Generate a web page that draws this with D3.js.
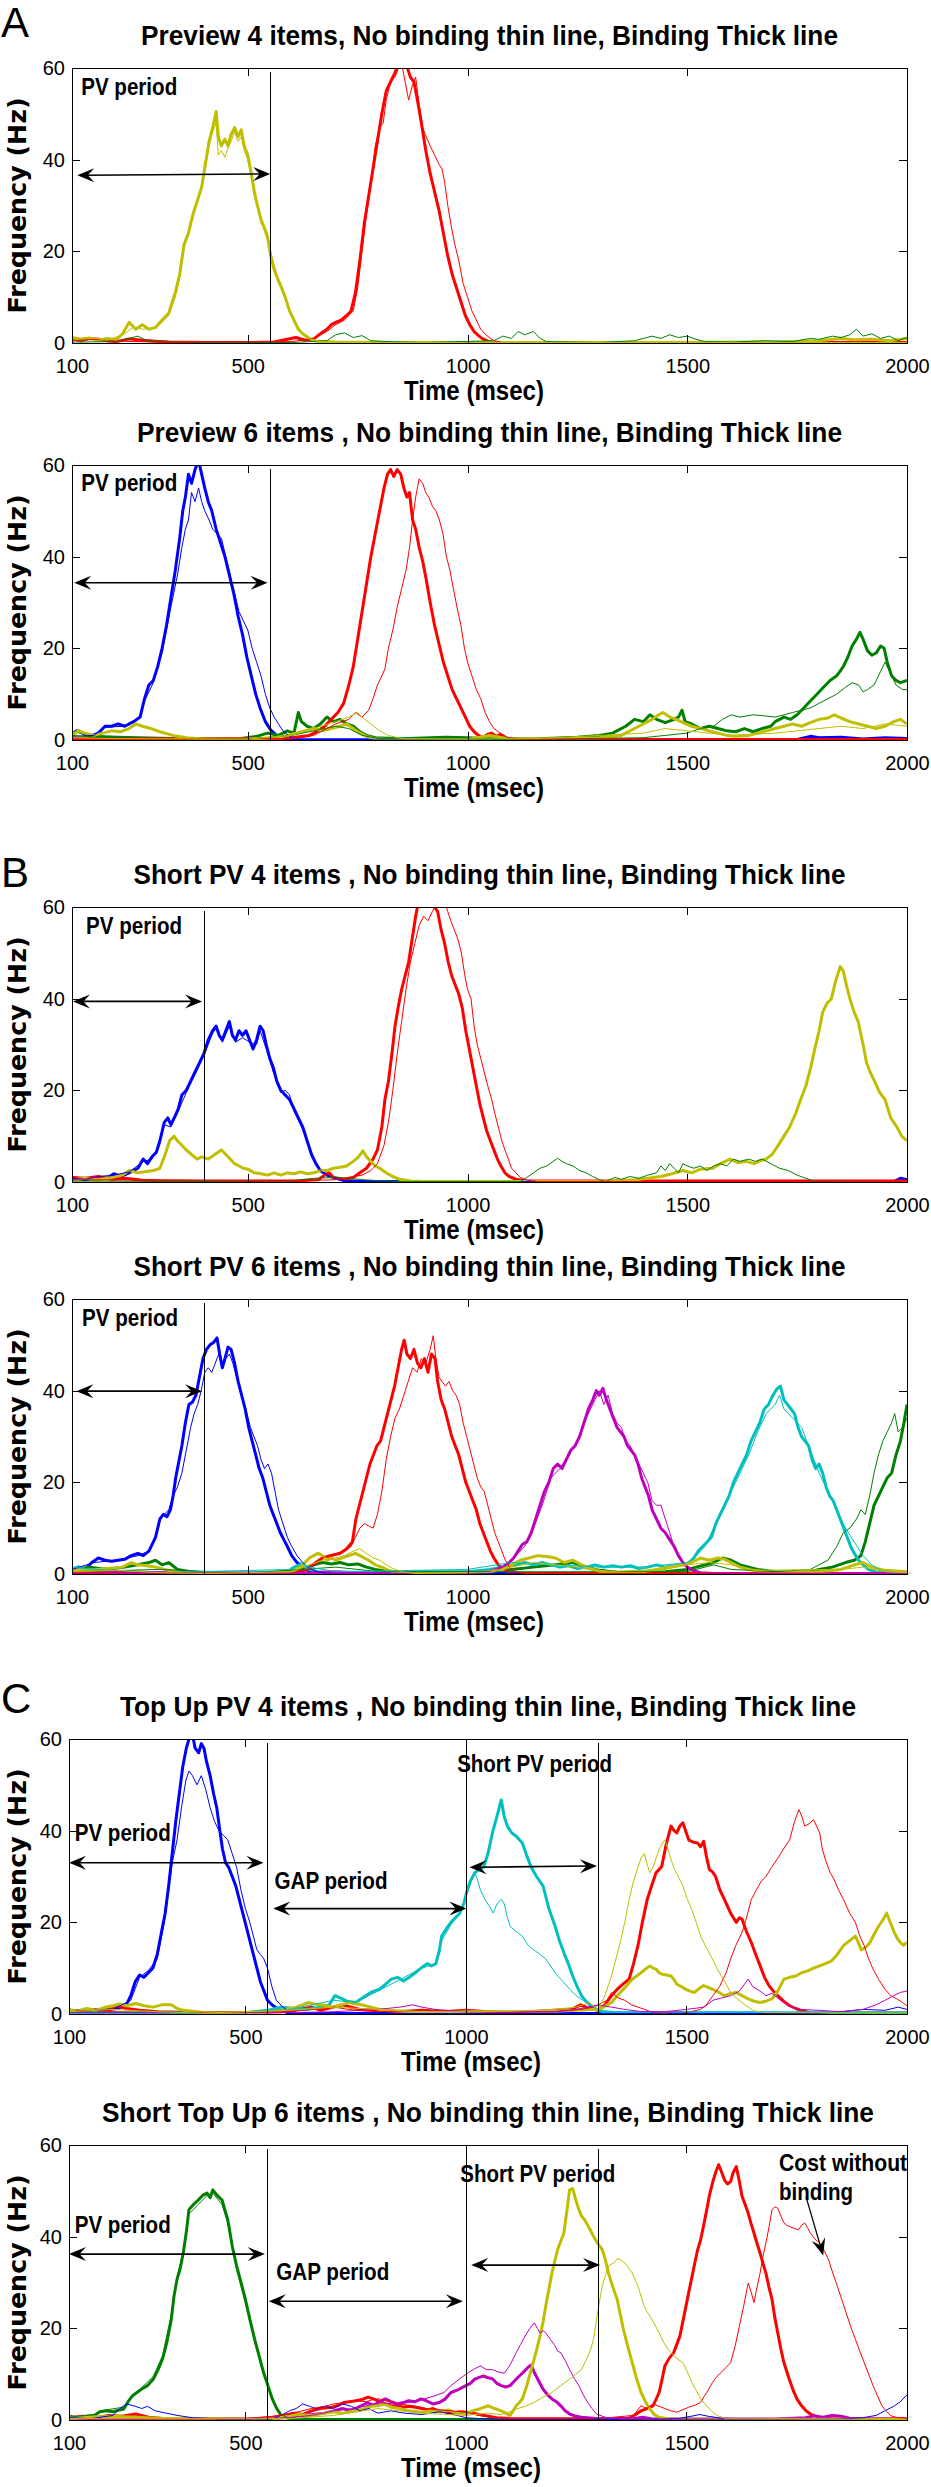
<!DOCTYPE html>
<html><head><meta charset="utf-8">
<script src="https://cdn.jsdelivr.net/npm/d3@7"></script>
<style>body{margin:0;background:#fff}svg{display:block}</style>
</head><body>
<script>
// ---------- tick labels ----------
const xTicks = [100, 500, 1000, 1500, 2000];
const yTicks = [0, 20, 40, 60];
const titles = [
 "Preview 4 items, No binding thin line, Binding Thick line",
 "Preview 6 items , No binding thin line, Binding Thick line",
 "Short PV 4 items , No binding thin line, Binding Thick line",
 "Short PV 6 items , No binding thin line, Binding Thick line",
 "Top Up PV 4 items , No binding thin line, Binding Thick line",
 "Short Top Up 6 items , No binding thin line, Binding Thick line"
];
const panelLetters = ["A", "", "B", "", "C", ""];

// ---------- Panel 1 : Preview 4 ----------
const p1_yellow_thick = [[100,1.2],[120,0.8],[140,1.1],[160,0.6],[180,1],[200,0.7],[215,2],[230,4.5],[245,3],[260,4],[275,3],[290,3.4],[305,5],[320,6.5],[335,11],[345,15],[355,21.5],[365,24],[375,28],[385,31],[395,34],[405,40],[412,44],[420,47],[428,50.5],[433,45],[440,43],[448,44.5],[455,43],[462,45.5],[470,47],[478,45],[485,46.5],[492,43],[500,41],[508,37],[515,33],[522,30],[530,27],[538,25],[545,23],[552,19],[560,16],[568,14],[577,12],[585,10],[595,7],[605,5],[615,3],[625,2],[640,1],[655,0.4],[700,0.2],[800,0.1],[1000,0.1],[1400,0.1],[1700,0.2],[1800,0.5],[1850,1],[1880,0.7],[1920,0.8],[1960,0.5],[2000,1]];
const p1_yellow_thin = [[100,0.8],[140,1.2],[180,0.6],[220,2],[240,3.5],[260,3],[290,3.2],[305,4.5],[320,6],[335,10],[345,14],[355,21],[365,23.5],[375,27.5],[385,30.5],[395,33.5],[405,39],[412,43],[420,46],[428,48],[433,41],[440,42],[448,40.5],[455,42.5],[462,44],[470,46],[478,44],[485,45],[492,42],[500,40],[508,36],[515,32],[522,29.5],[530,26],[538,25.5],[545,24],[552,20],[560,17],[568,14.5],[577,12.5],[585,10.5],[595,7.5],[605,5],[615,3.5],[625,2],[640,1],[660,0.3],[700,0.1],[2000,0.1]];
const p1_red_thick = [[100,1],[120,0.5],[140,1],[160,0.8],[180,0.5],[200,0.3],[230,0.9],[260,0.6],[290,0.4],[320,0.2],[400,0.1],[500,0.1],[560,0.2],[590,0.8],[610,1.2],[630,0.6],[650,0.9],[665,2],[680,3],[690,4],[700,4.5],[712,5],[725,6],[735,7],[745,11],[755,18],[765,26],[775,32],[785,38],[795,44],[805,50],[815,55],[825,57],[835,59],[843,61],[860,61],[870,58],[878,57],[886,53],[895,48],[905,42],[915,37],[925,33],[935,29],[945,24],[955,19],[965,15],[975,12],[985,9],[995,6],[1005,4],[1015,2.5],[1030,1.2],[1045,0.4],[1060,0.1],[2000,0.1]];
const p1_red_thin = [[100,0.5],[150,0.8],[200,0.4],[300,0.2],[600,0.3],[650,1],[680,2.5],[700,4],[720,5],[740,7],[750,12],[760,20],[770,28],[780,35],[790,43],[800,47],[808,48],[815,53],[825,57],[835,58],[843,60],[850,61],[858,57],[866,53],[874,56],[882,58],[890,52],[898,47],[906,45],[915,43],[925,41],[935,39],[942,38],[948,35],[955,30],[962,26],[970,22],[980,18],[990,13],[1000,10],[1010,7],[1020,5],[1030,3],[1045,1.5],[1060,0.5],[1080,0.1],[2000,0.1]];
const p1_green_thin = [[100,0.2],[200,0.3],[250,1.5],[270,0.5],[400,0.1],[600,0.1],[680,0.5],[700,1.8],[720,2.2],[740,1.2],[760,1.6],[780,0.5],[820,0.3],[900,0.1],[1060,0.5],[1080,1.5],[1100,1],[1115,2.5],[1130,1.8],[1150,2.5],[1165,1],[1180,0.3],[1300,0.1],[1380,0.5],[1400,1],[1420,1.5],[1440,1],[1460,1.8],[1480,1.2],[1500,1.5],[1520,0.8],[1540,0.3],[1600,0.2],[1680,0.5],[1740,0.3],[1780,1],[1800,0.8],[1830,1.5],[1850,1.2],[1870,1.8],[1885,3],[1900,1.5],[1920,2],[1940,1],[1960,1.5],[1980,0.5],[2000,1.2]];

// ---------- Panel 2 : Preview 6 ----------
const p2_blue_thick = [[100,1],[110,2],[125,1.5],[140,0.8],[160,1.5],[175,3],[190,3],[205,3.5],[220,3],[240,4],[255,5],[265,9],[275,12],[285,13],[295,16],[305,20],[315,25],[325,31],[335,37],[345,44],[352,50],[358,53],[365,58],[372,56],[380,59],[388,61],[395,58],[402,55],[410,52],[418,50],[428,46],[438,43],[448,40],[458,36],[468,32],[478,27],[488,23],[498,18],[508,14],[518,10],[528,7],[540,4],[552,2.2],[565,1],[580,0.4],[600,0.1],[1000,0],[1750,0.1],[1780,0.8],[1800,0.5],[1850,0.6],[1900,0.2],[1950,0.5],[2000,0.3]];
const p2_blue_thin = [[100,0.8],[150,1],[175,2.8],[220,3],[255,5],[265,8.5],[285,12.5],[305,19],[325,29],[340,36],[350,42],[358,46],[365,48],[372,54],[380,52],[388,55],[395,52],[402,50],[412,48],[420,46],[430,45],[440,44],[450,40],[460,36],[470,32],[480,28],[490,26],[500,24],[510,20],[520,17],[530,14],[540,10],[550,7],[560,5],[570,3.5],[580,2],[595,0.8],[610,0.2],[650,0],[2000,0]];
const p2_red_thick = [[100,0.3],[300,0.2],[560,0.3],[600,0.5],[640,1],[660,2],[675,3],[690,4.5],[705,6],[718,8],[730,12],[740,16],[750,22],[760,28],[770,34],[780,40],[790,45],[800,50],[810,55],[818,58],[825,59],[832,57.5],[840,59],[848,58],[855,55],[862,53],[868,54],[875,48],[882,46],[890,42],[898,39],[906,35],[915,30],[925,25],[935,21],[945,17],[955,14],[965,11],[975,9],[985,7],[995,5],[1005,3],[1015,1.8],[1025,1],[1035,0.5],[1045,1.2],[1055,1.5],[1065,0.8],[1075,1.2],[1090,0.3],[1120,0.1],[2000,0.1]];
const p2_red_thin = [[100,0.2],[600,0.3],[650,1],[700,3.5],[730,4.5],[745,6],[760,5],[775,6.5],[785,9],[795,12],[805,14],[812,15.5],[820,20],[830,24],[840,29],[850,33],[860,37],[868,42],[875,48],[882,53],[890,57],[898,56],[905,54],[912,53],[920,51],[928,50],[936,48],[944,45],[952,40],[960,37],[968,33],[976,29],[985,25],[993,20],[1000,17],[1010,14],[1020,11],[1030,9],[1040,6],[1050,4],[1060,2.5],[1075,1.5],[1090,0.6],[1110,0.2],[2000,0.1]];
const p2_green_thick = [[100,1.5],[115,2],[130,1.2],[150,0.8],[200,0.6],[300,0.4],[400,0.2],[480,0.3],[520,0.8],[545,1.5],[570,1],[590,2],[605,1.5],[615,6],[622,4],[635,3],[650,2.5],[665,3.5],[680,5],[695,4],[710,4.5],[725,3.5],[740,3],[755,1.8],[770,1],[790,0.5],[850,0.3],[950,0.6],[1000,0.5],[1050,0.3],[1150,0.2],[1250,0.6],[1300,1],[1330,1.5],[1360,3],[1380,4.5],[1400,4],[1415,5.5],[1430,4.5],[1450,3.8],[1470,4.5],[1480,5],[1488,6.5],[1495,4],[1510,3.5],[1530,2.5],[1550,3],[1570,2.5],[1590,2],[1610,1.8],[1630,2.5],[1650,1.8],[1670,2.5],[1690,3],[1700,4],[1720,5],[1735,4.5],[1750,5.5],[1765,7],[1780,8.5],[1795,10],[1810,11.5],[1825,13],[1840,14],[1855,16],[1865,18],[1875,20.5],[1885,22],[1893,23.5],[1900,22],[1910,19.5],[1920,18.5],[1930,19],[1940,20.5],[1948,20],[1955,17],[1965,14],[1975,13],[1985,12.5],[2000,13]];
const p2_green_thin = [[100,1],[150,0.6],[300,0.3],[500,0.2],[600,1],[650,2],[700,3],[730,2.5],[760,1],[800,0.3],[1200,0.2],[1400,0.5],[1450,1],[1500,1.5],[1530,2.5],[1560,3],[1580,4.5],[1600,5.5],[1620,5],[1650,5.5],[1680,5.2],[1700,5],[1720,5.5],[1740,6],[1760,6.5],[1780,7],[1800,8],[1820,9],[1840,10],[1860,11.5],[1875,12.5],[1890,12],[1900,10.5],[1910,11],[1925,12],[1940,15],[1950,17],[1960,15],[1975,12],[1990,11],[2000,11]];
const p2_yellow_thick = [[100,1],[115,2],[130,1.5],[150,1],[170,1.5],[190,2],[210,1.8],[230,2.5],[245,3.5],[260,3],[280,2.5],[300,1.8],[330,1],[360,0.5],[400,0.2],[450,0.1],[500,0.2],[560,0.5],[590,1],[610,1.5],[630,2],[650,2.5],[670,2],[690,2.5],[710,3],[725,3.5],[740,2.5],[755,1.5],[770,0.8],[790,0.3],[820,0.1],[1000,0.1],[1050,1],[1080,0.5],[1100,0.3],[1200,0.2],[1300,0.5],[1350,1],[1380,2.5],[1400,3.5],[1420,4.5],[1435,5.5],[1445,6],[1460,5],[1475,4.5],[1490,3.8],[1510,3],[1530,2.5],[1550,2],[1570,1.5],[1590,1],[1610,0.8],[1640,1],[1660,1.5],[1680,2],[1700,2.5],[1720,3],[1740,3.5],[1760,3],[1780,3.8],[1800,4.5],[1820,4.8],[1835,5.5],[1850,4.8],[1870,4],[1890,3.5],[1910,3],[1930,2.5],[1950,3],[1970,4],[1985,4.5],[2000,3.5]];
const p2_yellow_thin = [[100,0.5],[200,0.3],[500,0.2],[600,1],[650,2.5],[700,4],[730,5],[750,6],[760,5],[780,3.5],[800,2],[820,1],[850,0.3],[1000,0.2],[1150,0.3],[1200,0.5],[1400,1.5],[1450,2.5],[1500,2],[1550,1.5],[1600,1],[1700,1.5],[1750,2],[1800,2.5],[1850,3],[1900,2.5],[1950,3.5],[2000,3]];

// ---------- Panel 3 : Short PV 4 ----------
const p3_blue_thick = [[100,1],[130,0.5],[160,1],[180,0.8],[195,1.8],[210,1.2],[230,2],[250,3],[262,5],[272,4],[282,5.5],[292,6.5],[300,9],[310,13],[318,14],[325,12.5],[335,14.5],[342,16],[350,19],[360,20],[370,22],[380,24],[390,26],[400,28],[410,31],[420,33],[428,34],[435,32],[442,31],[450,33],[458,35],[465,32],[472,31],[480,33],[488,32],[496,33],[504,31],[512,29],[520,31],[528,34],[535,33],[542,30],[550,27],[558,25],[566,22],[575,20],[585,19],[595,18],[605,16],[615,14],[625,12],[635,9],[645,6],[655,4],[665,2.5],[680,1.5],[700,0.8],[720,0.3],[760,0.1],[1970,0.1],[1985,0.8],[2000,0.5]];
const p3_blue_thin = [[100,0.8],[130,0.6],[160,1.2],[195,1.5],[230,2.2],[262,4.5],[282,5],[300,8.5],[310,12.5],[325,12],[342,15.5],[360,19.5],[380,23.5],[400,27.5],[420,32.5],[428,33.5],[442,30.5],[458,34],[472,30.5],[488,31.5],[504,30.5],[520,30],[528,33],[542,29],[558,24],[575,19.5],[585,20],[595,19],[605,15.5],[625,11.5],[645,6],[665,2.5],[690,1],[720,0.3],[760,0.1],[2000,0.1]];
const p3_red_thick = [[100,1],[130,0.8],[160,1.2],[190,0.6],[220,0.8],[260,0.4],[300,0.3],[400,0.2],[500,0.2],[620,0.3],[660,0.5],[675,1.5],[685,2],[695,1],[720,0.6],[740,1],[755,2],[770,3],[785,5],[795,7],[805,12],[812,18],[820,22],[828,28],[835,34],[842,38],[850,42],[858,45],[866,48],[874,53],[882,58],[888,61],[900,61],[915,61],[925,60],[932,59],[940,55],[948,52],[956,48],[964,45],[972,43],[980,41],[988,38],[996,33],[1004,29],[1012,25],[1020,21],[1028,17],[1036,14],[1044,11],[1052,9],[1060,7],[1068,5],[1076,3.5],[1085,2],[1095,1.2],[1110,0.6],[1130,0.3],[1200,0.2],[2000,0.2]];
const p3_red_thin = [[100,0.5],[600,0.2],[700,0.5],[760,1.5],[780,2.5],[795,4],[810,8],[820,13],[830,20],[840,28],[850,35],[860,42],[870,48],[880,52],[890,56],[900,58],[910,57],[920,59],[930,61],[940,60],[948,61],[955,59],[962,57],[970,55],[978,53],[986,50],[994,45],[1000,42],[1008,40],[1015,34],[1022,30],[1030,27],[1038,24],[1046,21],[1055,18],[1062,15],[1070,12],[1078,9],[1085,7],[1093,5],[1100,3],[1110,2],[1120,1],[1135,0.4],[1160,0.1],[2000,0.1]];
const p3_yellow_thick = [[100,0.5],[130,0.8],[160,0.5],[190,1],[215,1.5],[230,2.5],[250,2],[270,2.3],[285,2.5],[300,3],[312,6],[322,9],[332,10],[340,9],[350,8],[360,7],[372,6],[385,5],[395,5.5],[410,5],[425,6],[440,7],[450,6],[460,5],[470,4],[480,3.5],[490,3],[500,2.8],[515,2],[530,1.8],[545,1.5],[560,2],[575,1.5],[590,2],[605,1.8],[620,2.2],[635,1.8],[650,2],[665,2.5],[680,2.5],[695,3],[710,3.2],[725,3.5],[740,4.5],[752,5.5],[762,6.8],[770,5.5],[780,4.5],[790,3.5],[800,3],[815,2],[830,1.2],[845,0.6],[870,0.2],[900,0.1],[1300,0.1],[1382,0.5],[1410,0.8],[1440,1.2],[1465,1.8],[1490,2.5],[1510,2],[1530,2.8],[1558,3],[1575,4],[1598,5],[1615,4.2],[1635,4.5],[1652,4],[1665,4.6],[1679,5],[1693,6],[1707,8],[1720,10],[1733,12],[1747,15],[1758,18],[1770,21],[1781,25],[1790,29],[1800,33],[1808,37],[1818,39],[1828,40],[1838,44],[1848,47],[1855,46],[1862,43],[1870,40],[1880,37],[1889,35],[1900,30],[1908,26],[1916,24],[1926,22],[1938,19.5],[1950,18],[1963,14],[1977,12],[1988,10],[2000,9]];
const p3_green_thin = [[100,0.2],[400,0.1],[600,0.3],[650,0.8],[700,1],[730,0.8],[760,0.5],[800,0.3],[850,0.1],[1120,0.1],[1135,1],[1150,2],[1165,3],[1180,3.5],[1195,4.5],[1205,5.2],[1215,4.5],[1225,4],[1240,3.5],[1255,2.5],[1270,2],[1285,1.2],[1300,0.5],[1315,0.1],[1335,1],[1350,0.6],[1370,1.2],[1390,0.8],[1410,1.5],[1430,2],[1440,3.5],[1450,2.5],[1460,4],[1470,3],[1480,2],[1490,4],[1500,3.5],[1515,3],[1530,3.5],[1545,2.5],[1560,3.5],[1575,4],[1590,3.5],[1605,5],[1620,4.5],[1640,5],[1655,4.5],[1670,5],[1690,4],[1710,3],[1730,2.5],[1750,1.5],[1770,0.8],[1790,0.2],[2000,0.1]];

// ---------- Panel 4 : Short PV 6 ----------
const p4_blue_thick = [[100,1],[115,1.5],[130,1],[145,2.5],[160,3.5],[175,3],[190,2.8],[205,3],[220,3.2],[235,4],[250,4.5],[262,4],[275,5],[290,8],[300,12],[308,13],[316,12.5],[324,14],[330,17],[336,21],[342,24],[350,28],[358,33],[366,37],[374,37.5],[382,39],[390,43],[398,47],[406,49],[414,50],[422,50.5],[430,51.5],[436,48],[442,45],[448,47],[455,49.5],[462,49],[470,46],[478,42],[486,39],[494,36],[502,32],[510,29],[518,26],[526,23],[534,21],[542,18],[550,15],[558,13],[566,11],[574,9],[582,7.5],[590,6],[600,4],[612,2.5],[625,1.5],[640,0.6],[660,0.2],[700,0.1],[2000,0.1]];
const p4_blue_thin = [[100,1],[150,2.5],[200,3],[250,4],[275,5],[290,8],[300,12],[310,13],[320,14],[330,17],[340,19],[350,22],[360,27],[370,32],[378,35],[386,37],[394,40],[402,44],[410,45],[418,44],[426,46],[434,48],[442,45],[450,47],[458,48],[466,46],[474,43],[482,41],[490,38],[498,35],[506,32],[514,30],[522,28],[530,25],[538,23],[546,24],[554,22],[562,18],[570,14],[580,11],[590,8],[600,6],[612,4],[625,2.5],[640,1.2],[660,0.4],[690,0.1],[2000,0.1]];
const p4_red_thick = [[100,0.3],[300,0.2],[600,0.2],[625,0.5],[640,1.5],[655,2.5],[670,3.5],[690,4],[710,4.5],[725,5.5],[738,7],[746,12],[754,15],[762,18],[770,21],[778,24],[786,26],[794,28],[802,29],[810,32],[818,35],[826,38],[834,41],[842,45],[850,49],[856,51],[862,48],[870,47],[878,49],[886,46],[894,45],[902,47],[910,44],[918,48],[926,47],[932,42],[940,38],[948,36],[956,33],[964,30],[972,28],[980,26],[988,23],[996,20],[1004,18],[1012,16],[1020,14],[1028,11],[1036,9],[1044,7],[1052,5],[1060,3.5],[1070,2],[1080,1],[1095,0.4],[1120,0.1],[2000,0.1]];
const p4_red_thin = [[100,0.2],[600,0.2],[640,1],[660,3],[680,4],[700,4.5],[720,5],[735,6],[745,8],[755,10],[765,11],[775,10.5],[785,10],[795,13],[805,18],[815,25],[825,30],[835,34],[845,36],[855,39],[865,42],[875,45],[885,44],[895,47],[905,46],[915,49],[922,52],[928,47],[935,43],[942,42],[950,41],[958,42],[966,40],[974,39],[982,37],[990,33],[998,30],[1006,27],[1014,24],[1022,21],[1030,19],[1038,18],[1046,15],[1054,12],[1062,9],[1070,7],[1078,5],[1086,3],[1095,1.5],[1110,0.5],[1130,0.1],[2000,0.1]];
const p4_magenta_thick = [[100,0.5],[150,0.8],[200,0.5],[300,0.3],[400,0.1],[600,0.1],[650,0.3],[700,0.5],[750,0.3],[800,0.2],[1000,0.1],[1050,0.5],[1080,1.5],[1095,2.5],[1105,3.5],[1115,5],[1125,6.5],[1135,7],[1145,9],[1155,12],[1165,15],[1175,18],[1185,20],[1195,23],[1205,24],[1215,23],[1225,25],[1235,27],[1245,28],[1255,30],[1265,33],[1275,36],[1285,38],[1293,40],[1300,39],[1308,40.5],[1316,38],[1324,36],[1332,34],[1340,32],[1348,31],[1356,30],[1364,28],[1372,27],[1380,26],[1388,24],[1396,21],[1404,19],[1412,17],[1420,14],[1430,12],[1440,10],[1450,9],[1460,7.5],[1470,6],[1480,4],[1490,2.5],[1500,1.5],[1512,0.8],[1530,0.3],[1560,0.1],[2000,0.1]];
const p4_magenta_thin = [[100,0.3],[1000,0.1],[1060,0.5],[1090,2],[1110,4],[1130,6],[1150,10],[1170,15],[1190,21],[1210,23],[1230,26],[1250,29],[1270,34],[1290,38],[1300,40],[1310,37],[1320,39],[1330,35],[1340,33],[1350,32],[1360,29],[1370,28],[1380,26],[1390,24],[1400,22],[1410,20],[1420,16],[1430,15],[1440,15],[1450,12],[1460,9],[1470,6],[1480,4],[1490,2.5],[1500,1.5],[1510,0.8],[1530,0.3],[2000,0.1]];
const p4_cyan_thick = [[100,1],[115,1.5],[130,1],[150,0.8],[200,0.5],[300,0.3],[400,0.2],[500,0.2],[590,0.5],[605,1.5],[620,2],[640,1],[660,0.5],[700,0.3],[800,0.3],[900,0.5],[1000,0.5],[1050,1],[1080,1.5],[1110,2],[1130,2.5],[1150,2],[1170,2.5],[1190,2],[1210,1.5],[1230,1.8],[1250,1.2],[1270,1.5],[1290,2],[1310,1.5],[1330,1.8],[1350,1.5],[1370,1.8],[1390,1.2],[1410,1.5],[1430,2],[1450,1.5],[1470,1.8],[1490,2],[1505,2.5],[1515,3.5],[1525,5],[1535,6],[1545,7],[1555,8],[1565,11],[1575,13],[1585,15],[1595,17],[1605,20],[1615,22],[1625,24],[1635,26],[1645,29],[1655,31],[1665,33],[1675,36],[1685,37],[1695,39],[1705,40.5],[1712,41],[1720,38],[1728,37],[1736,36],[1744,35],[1752,32],[1760,30],[1768,29],[1776,28],[1784,25],[1792,23],[1800,24],[1808,22],[1816,19],[1824,17],[1832,16],[1840,14],[1848,12],[1856,10],[1864,8],[1872,6],[1880,4.5],[1890,3],[1900,2],[1912,1],[1930,0.4],[1960,0.3],[2000,0.2]];
const p4_cyan_thin = [[100,1.5],[150,1],[300,0.3],[600,1],[620,2.5],[640,1.5],[700,0.5],[1000,1],[1100,2.5],[1200,2],[1300,1.5],[1400,1.5],[1500,2.5],[1520,4],[1540,6],[1560,10],[1580,14],[1600,18],[1620,22],[1640,26],[1660,31],[1680,35],[1700,37],[1710,39],[1720,36],[1740,34],[1760,32],[1780,27],[1800,22],[1820,18],[1840,14],[1860,10],[1880,7],[1900,4],[1920,2],[1940,0.8],[1970,0.3],[2000,0.2]];
const p4_green_thick = [[100,1],[140,1.5],[180,1],[220,1.5],[250,2],[275,2.5],[290,3],[305,2],[320,2.5],[340,1],[370,0.5],[400,0.2],[500,0.1],[560,0.3],[620,1],[650,2],[670,2.5],[690,2.2],[710,2.5],[730,2],[750,2.2],[770,1.5],[790,1],[820,0.5],[900,0.2],[1000,0.3],[1100,1],[1150,1.5],[1200,2],[1240,2.5],[1270,1.5],[1300,0.8],[1350,0.3],[1450,0.5],[1500,1],[1540,2],[1560,2.5],[1580,3.5],[1600,3],[1620,2],[1660,1],[1700,0.5],[1750,0.3],[1780,0.5],[1800,1],[1830,1.5],[1860,2.5],[1880,3],[1895,4],[1905,7],[1915,11],[1925,15],[1935,17],[1945,19],[1955,21],[1965,22],[1975,26],[1985,29],[1993,33],[2000,37]];
const p4_green_thin = [[100,0.5],[300,1],[500,0.2],[700,1.5],[800,0.5],[1500,0.5],[1560,2],[1600,1],[1700,0.5],[1780,1],[1800,2],[1820,3],[1840,6],[1855,9],[1870,10],[1885,12],[1895,14],[1905,13],[1915,17],[1925,22],[1935,26],[1945,29],[1955,31],[1965,33],[1972,35],[1980,31],[1990,32],[2000,34]];
const p4_yellow_thick = [[100,1],[140,0.8],[180,1.2],[215,1.5],[235,2.5],[250,2],[270,1.8],[290,1.5],[320,0.8],[350,0.3],[400,0.1],[550,0.1],[600,0.5],[620,1.5],[630,2.5],[640,3.5],[650,4],[660,4.5],[670,4],[680,3],[690,3.5],[700,3],[715,3.5],[730,4],[745,4.5],[755,4],[765,3.5],[775,3],[790,2],[805,1.5],[820,0.8],[840,0.3],[870,0.1],[1000,0.1],[1050,0.5],[1080,1],[1100,2],[1120,3],[1140,3.5],[1160,4],[1180,3.8],[1200,3.5],[1220,2.5],[1240,3],[1260,2],[1280,1.2],[1300,0.6],[1340,0.3],[1400,0.5],[1430,1],[1460,1.5],[1490,2],[1510,2.5],[1530,3.5],[1550,3],[1570,3.5],[1585,3.2],[1600,2.5],[1620,1.5],[1650,0.8],[1700,0.3],[1800,0.5],[1850,1],[1880,2],[1900,2.5],[1920,1.5],[1950,0.8],[2000,0.5]];
const p4_yellow_thin = [[100,0.5],[200,0.8],[300,0.3],[400,0.1],[600,0.5],[640,2],[670,3],[700,3.5],[720,4],[740,5],[755,5.5],[770,4.5],[785,3.5],[800,3],[815,2],[830,1.2],[850,0.5],[880,0.1],[1050,0.3],[1100,1.5],[1150,2.5],[1200,2],[1250,1.5],[1300,0.5],[1450,1],[1500,2],[1550,2.5],[1600,2],[1650,0.8],[1850,1],[1900,1.5],[1950,0.5],[2000,0.3]];

// ---------- Panel 5 : Top Up PV 4 ----------
const p5_blue_thick = [[100,0.5],[130,0.8],[160,0.5],[190,1],[210,1.2],[230,2],[240,4],[250,7],[260,8.5],[270,8],[280,9],[290,10],[300,13],[310,18],[318,22],[326,28],[334,35],[342,42],[350,48],[358,54],[366,58],[372,60],[380,61],[386,58],[394,57],[400,59],[406,58],[412,55],[420,52],[428,48],[435,45],[442,40],[448,36],[455,33],[462,32],[470,30],[478,28],[486,25],[494,22],[502,19],[510,16],[518,13],[526,10],[534,7],[542,5],[550,3],[560,2],[575,1],[595,0.3],[620,0.1],[2000,0.1]];
const p5_blue_thin = [[100,0.5],[200,1],[240,3],[260,8],[280,9.5],[300,12],[318,21],[334,33],[345,38],[355,45],[365,51],[372,53],[380,52],[390,50],[400,52],[410,49],[420,45],[430,42],[440,40],[450,39],[460,38],[470,35],[480,32],[490,27],[500,23],[510,20],[518,17],[526,14],[534,13],[542,12],[550,10],[560,6],[570,3],[585,1.5],[600,0.5],[640,0.1],[1800,0.1],[1850,0.5],[1900,1],[1950,0.8],[1980,1.5],[2000,1]];
const p5_cyan_thick = [[100,0.3],[300,0.2],[500,0.3],[550,0.8],[580,1.5],[610,1.2],[640,1],[670,1.5],[690,2],[703,4],[715,3.5],[730,2.8],[750,2.5],[765,3.5],[784,4.7],[804,5.4],[818,6.5],[831,7.6],[845,8],[858,7.2],[872,8],[885,9],[898,10],[912,11],[922,10.5],[932,11],[940,14],[945,17],[955,18.5],[966,20],[976,21],[986,22],[995,24],[1001,26.4],[1010,29],[1020,30.8],[1030,31.5],[1040,32],[1050,35],[1060,39.5],[1070,43],[1080,46.7],[1087,43],[1094,41],[1104,39.5],[1114,38.8],[1121,38],[1128,37.3],[1138,34.5],[1148,32],[1160,30],[1175,27.9],[1188,23],[1202,19.2],[1212,16],[1222,13.4],[1232,11],[1242,8.3],[1252,6],[1262,4],[1272,2.8],[1283,1.8],[1295,1],[1310,0.5],[1350,0.3],[2000,0.2]];
const p5_cyan_thin = [[100,0.3],[500,0.3],[600,1],[700,3],[750,2.5],[800,5],[850,7.5],[900,10],[930,11],[945,16],[966,19.5],[986,22],[1001,26],[1012,29],[1020,31],[1027,29],[1033,27],[1043,25],[1053,23.5],[1062,22],[1070,24],[1080,25],[1087,24],[1094,21],[1101,19],[1114,18],[1128,17],[1141,15],[1154,14],[1168,13],[1181,12],[1195,10],[1208,8.3],[1221,7],[1235,5.4],[1250,4],[1265,3],[1276,2.5],[1290,1.5],[1300,1],[1320,0.5],[2000,0.3]];
const p5_red_thick = [[100,0.8],[130,0.5],[160,1],[190,0.8],[210,1.8],[230,1.2],[260,0.8],[300,0.5],[400,0.3],[500,0.3],[580,0.5],[620,1],[650,1.5],[670,0.8],[700,1.5],[720,2],[740,1.5],[760,1],[800,0.8],[850,0.5],[900,0.8],[950,0.5],[1000,0.8],[1050,0.5],[1100,0.3],[1150,0.5],[1200,0.8],[1240,1],[1260,2],[1280,1.2],[1300,0.8],[1315,2],[1330,4],[1343,5.4],[1356,6.5],[1370,7.6],[1380,11],[1390,14.9],[1400,20],[1411,25],[1421,28],[1431,30.8],[1444,32.2],[1454,37],[1465,41],[1472,40],[1478,39.5],[1485,41],[1492,41.7],[1498,40],[1505,38],[1515,37.5],[1525,37.3],[1532,36.5],[1539,37.7],[1546,34],[1552,31.5],[1559,31],[1566,30],[1576,27],[1586,25],[1600,22],[1613,20],[1620,21],[1626,20.7],[1636,18],[1647,15.6],[1657,13],[1667,10.5],[1677,8],[1687,6.2],[1697,5],[1707,4],[1720,2.8],[1734,1.8],[1748,1.2],[1761,0.7],[1780,0.3],[2000,0.2]];
const p5_red_thin = [[100,0.5],[150,0.8],[200,0.5],[300,0.3],[600,0.5],[650,1],[700,1.5],[750,0.8],[800,0.5],[900,0.8],[1000,0.5],[1100,0.3],[1200,0.5],[1260,1],[1290,1.5],[1310,2.5],[1320,3],[1330,4.7],[1345,3.5],[1360,3],[1375,2],[1390,1.5],[1405,1],[1424,0.3],[1450,0.2],[1480,0.5],[1500,0.3],[1532,1],[1545,2],[1560,4],[1575,6],[1590,9],[1600,12],[1612,15],[1626,17.8],[1636,21],[1647,25],[1658,27],[1670,29],[1680,30],[1693,32],[1707,34],[1720,36],[1734,38],[1745,42],[1755,44.6],[1762,43],[1768,41],[1778,41.5],[1788,42.4],[1795,41],[1802,39.5],[1808,36],[1815,33.7],[1825,31],[1835,29.3],[1845,27],[1856,25],[1870,22],[1883,20],[1893,17],[1903,14.9],[1913,12],[1923,9.8],[1936,7.5],[1950,5.4],[1963,4],[1977,3.3],[1990,2.5],[2000,1.8]];
const p5_yellow_thick = [[100,1],[120,0.6],[140,1.2],[160,0.8],[180,1.4],[200,1.8],[215,2.2],[230,1.8],[251,2.3],[270,1.8],[291,1.5],[310,2],[332,2],[345,1.2],[360,0.8],[400,0.4],[450,0.2],[500,0.2],[560,0.5],[590,1],[615,1.5],[630,2],[642,2.5],[655,2.2],[669,2],[683,1.8],[696,1.5],[715,2],[736,2.5],[750,2.2],[763,2],[785,1.5],[804,1],[840,0.7],[885,0.5],[950,0.3],[1000,0.5],[1100,0.5],[1200,0.6],[1250,0.8],[1280,1],[1303,1],[1317,1.8],[1330,2.5],[1343,4],[1357,5.4],[1367,6.5],[1377,7.6],[1387,8.3],[1397,9],[1407,9.8],[1417,10.5],[1424,10],[1431,9.8],[1438,9],[1444,8.7],[1455,8.5],[1465,8.3],[1472,7.5],[1478,6.5],[1488,6],[1498,5.4],[1508,5],[1518,4.7],[1528,5.5],[1539,6.2],[1549,5.8],[1559,5.4],[1572,4.8],[1586,4],[1600,4.5],[1613,4.7],[1626,4],[1640,3.3],[1653,2.8],[1667,2.5],[1680,2.8],[1694,3.3],[1707,5],[1721,7.6],[1734,8],[1748,8.3],[1761,9],[1775,9.4],[1788,10],[1802,10.5],[1815,11],[1829,11.6],[1842,13],[1856,14.9],[1870,16],[1883,17],[1890,15.5],[1896,14],[1906,14.5],[1916,15.6],[1926,17.5],[1936,19.2],[1945,20.5],[1954,22],[1962,20],[1971,17.8],[1978,16.5],[1985,15.6],[1992,15],[2000,15.6]];
const p5_yellow_thin = [[100,0.5],[200,1],[300,0.5],[400,0.2],[600,0.8],[700,1.5],[800,1],[900,0.5],[1000,0.5],[1100,0.6],[1200,1],[1250,1.5],[1280,2.5],[1300,1],[1315,4],[1330,8.3],[1340,12],[1350,15.6],[1360,20],[1370,25],[1380,29],[1390,32],[1397,34],[1404,35],[1410,33],[1417,30.8],[1424,32],[1431,34],[1438,35.9],[1444,37],[1451,38],[1458,36],[1464,34],[1471,32],[1481,30],[1492,27.9],[1502,25],[1512,22.8],[1522,20],[1532,17],[1545,14.5],[1559,12],[1569,10],[1579,8.3],[1590,6.5],[1600,4.7],[1613,3.5],[1626,2.5],[1640,1.5],[1653,0.7],[1680,0.3],[2000,0.2]];
const p5_magenta_thin = [[100,0.3],[600,0.3],[700,0.5],[800,1],[850,1.5],[880,2],[900,1.5],[930,1],[1000,0.5],[1200,0.5],[1250,1],[1300,2],[1330,1.5],[1360,1],[1400,0.5],[1450,0.5],[1500,1],[1540,1.5],[1560,3],[1580,3.5],[1600,4],[1620,5],[1640,7.6],[1650,6],[1667,5],[1680,4],[1694,4.5],[1707,3.5],[1720,2.5],[1740,1.5],[1760,1],[1800,0.8],[1850,0.5],[1900,1],[1930,2],[1950,3],[1970,4],[1985,4.7],[2000,5]];

// ---------- Panel 6 : Short Top Up 6 ----------
const p6_green_thick = [[100,0.8],[120,0.5],[140,0.8],[157,1],[170,1.8],[184,2],[200,1.8],[215,2.2],[224,2.4],[234,4],[244,5.3],[254,6],[264,6.7],[278,7.5],[291,8.9],[302,11],[312,13.3],[322,17],[332,22],[338,27],[345,30.7],[352,33],[359,36.4],[366,41],[372,45.9],[382,47],[393,48],[403,49],[413,49.5],[420,48.5],[426,50.2],[436,49],[447,48],[453,46],[460,43.7],[470,38],[480,33.6],[490,30],[500,26.3],[510,22],[521,17.6],[531,14],[541,10.4],[551,7.5],[561,4.6],[571,2.5],[581,1],[595,0.4],[620,0.1],[2000,0.1]];
const p6_green_thin = [[100,0.6],[157,1.2],[184,2.2],[224,2.8],[244,5],[264,7],[291,9.5],[312,14],[332,23],[345,31],[359,37],[372,45],[393,47],[413,49],[426,49.5],[447,47],[460,43],[480,33],[500,25.5],[521,17],[541,10],[561,4.5],[581,1.2],[600,0.3],[2000,0.1]];
const p6_blue_thin = [[100,0.5],[150,0.3],[200,1],[215,2.5],[231,3.5],[250,3],[265,2.5],[278,3],[295,2],[320,1.5],[345,1],[380,0.5],[450,0.2],[560,0.2],[580,1],[600,2],[615,2.5],[630,3.5],[645,3],[660,2.5],[680,3],[700,2.5],[720,3.5],[740,3],[760,2],[780,2.5],[800,1.5],[830,2],[860,1.5],[900,1.2],[940,1.8],[980,1],[1000,0.5],[1050,0.2],[1400,0.1],[1480,0.3],[1510,0.8],[1530,1.2],[1550,0.8],[1580,0.4],[1700,0.1],[1850,0.2],[1900,0.5],[1930,1],[1950,2],[1970,3],[1985,4],[2000,5.5]];
const p6_magenta_thick = [[100,0.5],[150,0.3],[300,0.2],[500,0.2],[560,0.3],[588,0.5],[620,1],[650,1.2],[680,1.5],[700,2],[720,2.5],[740,2],[760,3],[777,3.8],[790,3.2],[805,4],[817,4.6],[830,4],[845,3.5],[858,3.8],[870,4.2],[885,4],[898,4.6],[910,4.2],[925,3.5],[939,3.8],[952,4.5],[966,6],[980,6.5],[990,7],[1000,7.5],[1010,8],[1020,8.9],[1030,9.3],[1040,9.6],[1050,9.2],[1060,9],[1070,8],[1080,7.5],[1090,7.2],[1100,7.5],[1110,8.5],[1121,9.6],[1131,10.5],[1141,11.5],[1148,12],[1155,10.4],[1165,8.5],[1175,6.7],[1185,5.5],[1195,4.6],[1205,4],[1215,3.1],[1225,2],[1235,1.3],[1250,0.8],[1262,0.6],[1300,0.3],[1380,0.3],[1400,0.6],[1420,0.3],[1700,0.2],[1770,0.5],[1790,0.9],[1810,0.6],[1830,1],[1850,0.8],[1870,0.4],[1900,0.2],[2000,0.2]];
const p6_magenta_thin = [[100,0.3],[500,0.2],[600,0.5],[650,1],[700,2],[740,2.5],[770,3],[804,3.8],[840,3.5],[885,4],[920,5],[950,6],[966,7.5],[986,9],[1006,10.4],[1020,11.2],[1033,11.8],[1046,11],[1060,11],[1073,10.5],[1087,10.2],[1100,12],[1114,14.7],[1124,16.5],[1134,18.3],[1145,20],[1155,21.2],[1162,20],[1168,19],[1175,19.5],[1181,19],[1192,17.5],[1202,16.2],[1208,15],[1215,14.7],[1225,13],[1235,11],[1246,9],[1256,7.5],[1266,5.5],[1276,3.8],[1286,2.5],[1296,1.3],[1316,0.6],[1350,0.2],[2000,0.1]];
const p6_yellow_thick = [[100,0.5],[200,0.8],[300,0.4],[400,0.3],[500,0.2],[560,0.3],[600,0.8],[620,1.2],[650,1],[680,1.5],[700,1.8],[720,1.5],[750,2],[770,2.5],[785,3],[800,3.1],[815,3.5],[830,2.8],[850,2.5],[870,2],[890,1.8],[901,1.7],[920,2],[940,1.8],[960,2.2],[980,1.5],[1001,1.3],[1015,2],[1030,2.4],[1042,2.8],[1051,3.1],[1065,2.5],[1080,2],[1090,1.5],[1100,1],[1107,2],[1114,3.1],[1121,3.8],[1128,4.6],[1138,7.5],[1148,11],[1158,14.5],[1168,18.3],[1175,21.5],[1181,24.9],[1188,28.5],[1195,32.1],[1201,34.5],[1208,37.2],[1215,39],[1222,40.8],[1228,45],[1235,50.2],[1242,50.5],[1249,48],[1256,45.9],[1262,44.5],[1269,43.7],[1279,42],[1289,40.1],[1299,38.5],[1309,37.2],[1316,35],[1323,32.1],[1333,29],[1343,26.3],[1350,23],[1357,19.8],[1367,16],[1377,12.5],[1387,9],[1397,6],[1407,4],[1417,2.4],[1427,1.2],[1438,0.6],[1460,0.2],[2000,0.1]];
const p6_yellow_thin = [[100,0.3],[600,0.3],[700,1],[800,2.5],[900,1.5],[1000,1],[1050,1.5],[1080,1.2],[1100,1.8],[1114,2.4],[1134,3],[1154,3.8],[1175,5],[1195,6],[1215,7.5],[1235,8.9],[1249,10],[1262,11],[1272,13],[1283,15.4],[1290,18],[1296,22],[1303,26],[1309,29.2],[1316,31.5],[1323,33.6],[1330,34],[1336,34.3],[1343,35.2],[1350,35],[1357,34.5],[1363,33.9],[1370,33],[1377,32.1],[1384,30.5],[1390,29.2],[1397,27],[1404,24.9],[1411,23.5],[1417,22.7],[1427,21],[1438,19],[1448,17],[1458,15.4],[1465,14.7],[1471,14],[1481,13.2],[1492,12.5],[1502,10.5],[1512,8.2],[1522,6.5],[1532,4.6],[1542,3.5],[1552,2.4],[1562,1.5],[1572,0.9],[1590,0.3],[2000,0.1]];
const p6_red_thick = [[100,0.5],[130,0.8],[160,0.5],[190,1],[220,0.8],[251,1.3],[280,0.6],[320,0.3],[400,0.2],[500,0.2],[560,0.5],[588,1],[610,1.5],[630,1.2],[650,2],[670,2.5],[696,2.8],[710,3.2],[723,3.8],[736,4],[750,4.2],[765,4.5],[778,5],[790,4.6],[805,4],[818,3.5],[831,3],[845,3.2],[858,2.8],[872,3],[885,2.8],[900,2.5],[915,2.2],[925,2.5],[939,2],[955,1.8],[970,1.5],[985,1.8],[1000,1.7],[1015,1.5],[1030,1.2],[1047,0.9],[1070,0.5],[1100,0.3],[1300,0.3],[1370,0.4],[1385,1.2],[1397,2],[1410,2.5],[1424,3.1],[1431,4.5],[1438,6],[1445,9],[1451,11.8],[1461,13.5],[1471,14.7],[1478,16.5],[1485,18.3],[1495,23],[1505,27.8],[1512,31],[1519,34.3],[1525,37],[1532,39.3],[1539,42.5],[1546,45.9],[1552,49],[1559,51.7],[1566,54],[1573,55.7],[1580,54],[1586,52.4],[1593,51.5],[1600,52],[1606,54],[1613,55.3],[1620,52],[1626,48.8],[1633,47],[1640,45.1],[1646,43],[1653,40.8],[1660,38.5],[1667,36.4],[1674,34],[1680,32.1],[1687,29],[1694,26.3],[1700,22.5],[1707,19],[1714,15.5],[1721,12.5],[1731,9.5],[1741,6.7],[1751,4.5],[1761,3.1],[1771,2],[1781,1.3],[1802,0.5],[1830,0.2],[2000,0.2]];
const p6_red_thin = [[100,0.3],[300,0.2],[500,0.3],[560,0.8],[588,1.2],[620,1.8],[650,2.5],[680,3],[700,3.5],[723,3.8],[750,4.2],[775,4],[790,4.5],[804,4.6],[818,4.2],[831,4],[850,3.5],[870,3.2],[885,3],[910,2.5],[940,2.2],[966,2],[985,1.8],[1000,1.7],[1030,1],[1060,0.5],[1100,0.3],[1300,0.3],[1380,1],[1397,3.1],[1410,2.5],[1424,3.5],[1438,3],[1451,2.5],[1465,2],[1478,1.7],[1491,2.2],[1505,2.8],[1519,3.2],[1532,3.8],[1539,5],[1546,6],[1552,7],[1559,8.2],[1569,9.5],[1579,10.4],[1590,11.5],[1600,12.5],[1610,16],[1620,20.5],[1630,25],[1640,29.9],[1647,27.8],[1653,25.6],[1660,29],[1667,32.1],[1673,35.5],[1680,38.6],[1687,42],[1694,45.9],[1700,46.5],[1707,46.2],[1714,44.5],[1721,43],[1727,42.5],[1734,42.2],[1744,41.8],[1754,41.5],[1761,42.5],[1768,43],[1774,42],[1781,40.8],[1791,39.5],[1802,38.6],[1812,37],[1822,35],[1832,32],[1842,29.2],[1852,26.3],[1862,23.4],[1872,20.5],[1883,17.6],[1893,15],[1903,12.5],[1913,10],[1923,7.5],[1933,5.3],[1943,3.1],[1954,1.8],[1964,0.9],[1980,0.5],[2000,0.4]];

// ---------- annotations (data coordinates) ----------
const p1_vlines = [550], p2_vlines = [550], p3_vlines = [400], p4_vlines = [400];
const p5_vlines = [550, 1000, 1300], p6_vlines = [550, 1000, 1300];
const p1_arrows = [[112,36.6,551,36.9]];
const p2_arrows = [[105,34.3,545,34.3]];
const p3_arrows = [[102,39.4,396,39.4]];
const p4_arrows = [[110,39.9,396,39.9]];
const p5_arrows = [[100,33.0,541,33.0],[563,23.0,1001,23.0],[1008,32.0,1297,32.3]];
const p6_arrows = [[100,36.2,544,36.2],[553,25.9,993,25.9],[1012,33.8,1304,33.8]];
const p6_single = [[1771,48.7,1810,35.9]];
const p1_labels = [["PV period",121,54.2,96]];
const p2_labels = [["PV period",121,54.4,96]];
const p3_labels = [["PV period",132,54.2,96]];
const p4_labels = [["PV period",123,54.1,96]];
const p5_labels = [["PV period",113,37.8,96],["GAP period",566,27.2,113],["Short PV period",980,52.8,155]];
const p6_labels = [["PV period",113,40.7,96],["GAP period",570,30.5,113],["Short PV period",987,51.9,155],["Cost without",1710,54.3,128],["binding",1710,47.9,74]];

// ---------- styles ----------
const C = {blue:"#0000ff", red:"#ff0000", green:"#008000", olive:"#bfbf00", cyan:"#00bfbf", magenta:"#bf00bf"};
const THICK = 3, THIN = 1;
const PH = 275;
const SANS = "Liberation Sans, Arial, sans-serif";

const panels = [
 {top:68, left:72, right:907, vlines:p1_vlines, arrows:p1_arrows, single:[], labels:p1_labels,
  series:[[p1_red_thick,C.red,THICK],[p1_yellow_thick,C.olive,THICK],[p1_green_thin,C.green,THIN],[p1_red_thin,C.red,THIN],[p1_yellow_thin,C.olive,THIN]]},
 {top:465, left:72, right:907, vlines:p2_vlines, arrows:p2_arrows, single:[], labels:p2_labels,
  series:[[p2_blue_thick,C.blue,THICK],[p2_green_thick,C.green,THICK],[p2_red_thick,C.red,THICK],[p2_yellow_thick,C.olive,THICK],
          [p2_blue_thin,C.blue,THIN],[p2_green_thin,C.green,THIN],[p2_red_thin,C.red,THIN],[p2_yellow_thin,C.olive,THIN]]},
 {top:907, left:72, right:907, vlines:p3_vlines, arrows:p3_arrows, single:[], labels:p3_labels,
  series:[[p3_blue_thick,C.blue,THICK],[p3_red_thick,C.red,THICK],[p3_yellow_thick,C.olive,THICK],
          [p3_blue_thin,C.blue,THIN],[p3_green_thin,C.green,THIN],[p3_red_thin,C.red,THIN]]},
 {top:1299, left:72, right:907, vlines:p4_vlines, arrows:p4_arrows, single:[], labels:p4_labels,
  series:[[p4_blue_thick,C.blue,THICK],[p4_green_thick,C.green,THICK],[p4_red_thick,C.red,THICK],[p4_cyan_thick,C.cyan,THICK],[p4_magenta_thick,C.magenta,THICK],[p4_yellow_thick,C.olive,THICK],
          [p4_blue_thin,C.blue,THIN],[p4_green_thin,C.green,THIN],[p4_red_thin,C.red,THIN],[p4_cyan_thin,C.cyan,THIN],[p4_magenta_thin,C.magenta,THIN],[p4_yellow_thin,C.olive,THIN]]},
 {top:1739, left:69, right:907, vlines:p5_vlines, arrows:p5_arrows, single:[], labels:p5_labels,
  series:[[p5_blue_thick,C.blue,THICK],[p5_red_thick,C.red,THICK],[p5_cyan_thick,C.cyan,THICK],[p5_yellow_thick,C.olive,THICK],
          [p5_blue_thin,C.blue,THIN],[p5_red_thin,C.red,THIN],[p5_cyan_thin,C.cyan,THIN],[p5_magenta_thin,C.magenta,THIN],[p5_yellow_thin,C.olive,THIN]]},
 {top:2145, left:69, right:907, vlines:p6_vlines, arrows:p6_arrows, single:p6_single, labels:p6_labels,
  series:[[p6_green_thick,C.green,THICK],[p6_red_thick,C.red,THICK],[p6_magenta_thick,C.magenta,THICK],[p6_yellow_thick,C.olive,THICK],
          [p6_green_thin,C.green,THIN],[p6_blue_thin,C.blue,THIN],[p6_red_thin,C.red,THIN],[p6_magenta_thin,C.magenta,THIN],[p6_yellow_thin,C.olive,THIN]]}
];
const letterBaselines = [37, null, 887, null, 1713, null];
const titleWidths = [697, 705, 712, 712, 736, 772];

const svg = d3.select("body").append("svg").attr("width", 931).attr("height", 2487);
svg.append("rect").attr("width", 931).attr("height", 2487).attr("fill", "#fff");

function head(g, x, y, ang) {
  const L = 17, Wd = 7;
  g.append("path")
   .attr("d", `M0,0 L${-L},${-Wd} L${-L*0.62},0 L${-L},${Wd} Z`)
   .attr("transform", `translate(${x},${y}) rotate(${ang*180/Math.PI})`)
   .attr("fill", "#000");
}

panels.forEach((p, i) => {
  const x = d3.scaleLinear().domain([100, 2000]).range([p.left, p.right]);
  const y = d3.scaleLinear().domain([0, 60]).range([p.top + PH, p.top]);
  const g = svg.append("g");
  const cid = "clip" + i;
  svg.append("clipPath").attr("id", cid).append("rect")
    .attr("x", p.left).attr("y", p.top).attr("width", p.right - p.left).attr("height", PH);

  // title
  g.append("text").attr("x", (p.left + p.right) / 2).attr("y", p.top - 23)
    .attr("text-anchor", "middle").attr("font-family", SANS)
    .attr("font-weight", "bold").attr("font-size", 27)
    .attr("textLength", titleWidths[i]).attr("lengthAdjust", "spacingAndGlyphs")
    .text(titles[i]);
  if (panelLetters[i]) {
    g.append("text").attr("x", 1).attr("y", letterBaselines[i])
      .attr("font-family", SANS).attr("font-size", 42)
      .text(panelLetters[i]);
  }

  // lines
  const line = d3.line().x(d => x(d[0])).y(d => y(d[1]));
  const lg = g.append("g").attr("clip-path", `url(#${cid})`);
  p.series.forEach(s => {
    lg.append("path").datum(s[0]).attr("d", line).attr("fill", "none")
      .attr("stroke", s[1]).attr("stroke-width", s[2]).attr("stroke-linejoin", "round");
  });

  // vertical period lines
  p.vlines.forEach(v => {
    const xv = Math.round(x(v)) + 0.5;
    g.append("line").attr("x1", xv).attr("x2", xv).attr("y1", p.top + 4).attr("y2", p.top + PH)
      .attr("stroke", "#000").attr("stroke-width", 1).attr("shape-rendering", "crispEdges");
  });

  // box & ticks
  g.append("rect").attr("x", p.left + 0.5).attr("y", p.top + 0.5).attr("width", p.right - p.left).attr("height", PH)
    .attr("fill", "none").attr("stroke", "#000").attr("stroke-width", 1).attr("shape-rendering", "crispEdges");
  const tk = 8;
  const tg = g.append("g").attr("stroke", "#000").attr("shape-rendering", "crispEdges");
  xTicks.forEach(t => {
    const xt = Math.round(x(t)) + 0.5;
    tg.append("line").attr("x1", xt).attr("x2", xt).attr("y1", p.top + PH).attr("y2", p.top + PH - tk);
    tg.append("line").attr("x1", xt).attr("x2", xt).attr("y1", p.top).attr("y2", p.top + tk);
  });
  yTicks.forEach(t => {
    const yt = Math.round(y(t)) + 0.5;
    tg.append("line").attr("x1", p.left).attr("x2", p.left + tk).attr("y1", yt).attr("y2", yt);
    tg.append("line").attr("x1", p.right).attr("x2", p.right - tk).attr("y1", yt).attr("y2", yt);
  });
  const axB = d3.axisBottom(x).tickValues(xTicks).tickFormat(d3.format("d")).tickSize(0).tickPadding(0);
  const xa = g.append("g").attr("transform", `translate(0,${p.top + PH})`).call(axB);
  xa.select(".domain").remove();
  xa.selectAll("text").attr("dy", null).attr("y", 30).attr("fill", "#000")
    .attr("font-family", SANS).attr("font-size", 20);
  const ya = g.append("g").attr("transform", `translate(${p.left},0)`)
    .call(d3.axisLeft(y).tickValues(yTicks).tickFormat(d3.format("d")).tickSize(0).tickPadding(7));
  ya.select(".domain").remove();
  ya.selectAll("text").attr("fill", "#000").attr("font-family", SANS).attr("font-size", 20);

  // axis labels
  g.append("text").attr("x", 474 + (p.left - 72)).attr("y", p.top + PH + 57).attr("text-anchor", "middle")
    .attr("font-family", SANS).attr("font-weight", "bold").attr("font-size", 28)
    .attr("textLength", 140).attr("lengthAdjust", "spacingAndGlyphs").text("Time (msec)");
  g.append("text").attr("transform", `translate(26,${p.top + PH / 2}) rotate(-90)`).attr("text-anchor", "middle")
    .attr("font-family", "DejaVu Sans, sans-serif").attr("font-weight", "bold").attr("font-size", 25)
    .attr("textLength", 216).attr("lengthAdjust", "spacingAndGlyphs").text("Frequency (Hz)");

  // arrows
  p.arrows.forEach(a => {
    const x1 = x(a[0]), y1 = y(a[1]), x2 = x(a[2]), y2 = y(a[3]);
    const ang = Math.atan2(y2 - y1, x2 - x1);
    g.append("line").attr("x1", x1 + 8 * Math.cos(ang)).attr("y1", y1 + 8 * Math.sin(ang))
      .attr("x2", x2 - 8 * Math.cos(ang)).attr("y2", y2 - 8 * Math.sin(ang))
      .attr("stroke", "#000").attr("stroke-width", 1.6);
    head(g, x2, y2, ang);
    head(g, x1, y1, ang + Math.PI);
  });
  p.single.forEach(a => {
    const x1 = x(a[0]), y1 = y(a[1]), x2 = x(a[2]), y2 = y(a[3]);
    const ang = Math.atan2(y2 - y1, x2 - x1);
    g.append("line").attr("x1", x1).attr("y1", y1)
      .attr("x2", x2 - 8 * Math.cos(ang)).attr("y2", y2 - 8 * Math.sin(ang))
      .attr("stroke", "#000").attr("stroke-width", 1.2);
    head(g, x2, y2, ang);
  });

  // labels
  p.labels.forEach(l => {
    g.append("text").attr("x", x(l[1])).attr("y", y(l[2]))
      .attr("font-family", SANS).attr("font-weight", "bold").attr("font-size", 23)
      .attr("textLength", l[3]).attr("lengthAdjust", "spacingAndGlyphs").text(l[0]);
  });
});
</script>
</body></html>
